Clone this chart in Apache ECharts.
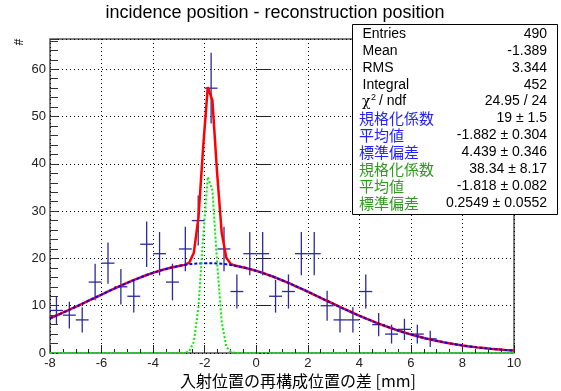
<!DOCTYPE html>
<html>
<head>
<meta charset="utf-8">
<script src="https://cdn.jsdelivr.net/npm/echarts@6/dist/echarts.min.js"></script>
<style>
html,body{margin:0;padding:0;background:#fff;}
#chart{width:561px;height:391px;}
</style>
</head>
<body>
<div id="chart"></div>
<script>
// ---- data ----
const binCenters = [-7.75,-7.25,-6.75,-6.25,-5.75,-5.25,-4.75,-4.25,-3.75,-3.25,-2.75,-2.25,-1.75,-1.25,-0.75,-0.25,0.25,0.75,1.25,1.75,2.25,2.75,3.25,3.75,4.25,4.75,5.25,5.75,6.25,6.75,7.25,7.75,8.25,8.75,9.25,9.75];
const counts = [9,8,7,15,19,14,12,23,21,15,22,28,56,22,13,21,21,12,13,21,21,10,7,7,13,6,4,5,4,3,0,0,0,0,0,0];
const errors = [3,2.83,2.65,3.87,4.36,3.74,3.46,4.8,4.58,3.87,4.69,5.29,7.48,4.69,3.61,4.58,4.58,3.46,3.61,4.58,4.58,3.16,2.65,2.65,3.61,2.45,2,2.24,2,1.73,0,0,0,0,0,0];
const binWidth = 0.5;

const curveX = [-8,-7.82,-7.64,-7.46,-7.28,-7.1,-6.92,-6.74,-6.56,-6.38,-6.2,-6.02,-5.84,-5.66,-5.48,-5.3,-5.12,-4.94,-4.76,-4.58,-4.4,-4.22,-4.04,-3.86,-3.68,-3.5,-3.32,-3.14,-2.96,-2.78,-2.6,-2.42,-2.24,-2.06,-1.88,-1.7,-1.52,-1.34,-1.16,-0.98,-0.8,-0.62,-0.44,-0.26,-0.08,0.1,0.28,0.46,0.64,0.82,1,1.18,1.36,1.54,1.72,1.9,2.08,2.26,2.44,2.62,2.8,2.98,3.16,3.34,3.52,3.7,3.88,4.06,4.24,4.42,4.6,4.78,4.96,5.14,5.32,5.5,5.68,5.86,6.04,6.22,6.4,6.58,6.76,6.94,7.12,7.3,7.48,7.66,7.84,8.02,8.2,8.38,8.56,8.74,8.92,9.1,9.28,9.46,9.64,9.82,10];
const broadY = [7.35,7.77,8.19,8.63,9.07,9.52,9.98,10.44,10.90,11.37,11.84,12.30,12.77,13.23,13.68,14.12,14.56,14.99,15.40,15.79,16.18,16.54,16.88,17.20,17.50,17.78,18.03,18.25,18.45,18.61,18.75,18.86,18.94,18.98,19.00,18.98,18.94,18.86,18.75,18.61,18.44,18.25,18.02,17.77,17.50,17.20,16.88,16.53,16.17,15.79,15.39,14.98,14.55,14.11,13.67,13.22,12.76,12.29,11.83,11.36,10.89,10.43,9.97,9.51,9.06,8.62,8.18,7.76,7.34,6.94,6.54,6.16,5.79,5.44,5.10,4.77,4.45,4.15,3.87,3.59,3.33,3.09,2.86,2.64,2.43,2.24,2.06,1.89,1.73,1.58,1.44,1.31,1.19,1.09,0.98,0.89,0.81,0.73,0.65,0.59,0.53];
const totalY = [7.35,7.77,8.19,8.63,9.07,9.52,9.98,10.44,10.90,11.37,11.84,12.30,12.77,13.23,13.68,14.12,14.56,14.99,15.40,15.79,16.18,16.54,16.88,17.20,17.50,17.78,18.03,18.25,18.45,18.64,19.10,21.22,28.68,43.41,56.22,53.43,38.30,25.47,20.12,18.78,18.45,18.25,18.02,17.77,17.50,17.20,16.88,16.53,16.17,15.79,15.39,14.98,14.55,14.11,13.67,13.22,12.76,12.29,11.83,11.36,10.89,10.43,9.97,9.51,9.06,8.62,8.18,7.76,7.34,6.94,6.54,6.16,5.79,5.44,5.10,4.77,4.45,4.15,3.87,3.59,3.33,3.09,2.86,2.64,2.43,2.24,2.06,1.89,1.73,1.58,1.44,1.31,1.19,1.09,0.98,0.89,0.81,0.73,0.65,0.59,0.53];
const narrowX = [-8,-2.96,-2.78,-2.6,-2.42,-2.24,-2.06,-1.88,-1.7,-1.52,-1.34,-1.16,-0.98,-0.8,-0.62,10];
const narrowY = [0,0,0.03,0.35,2.36,9.74,24.43,37.22,34.45,19.36,6.61,1.37,0.17,0.01,0,0];

const titleText = 'incidence position - reconstruction position';
const xTitle = '入射位置の再構成位置の差 [mm]';
const yTitle = '#';
const statLabels = ['Entries','Mean','RMS','Integral','χ2 / ndf','規格化係数','平均値','標準偏差','規格化係数','平均値','標準偏差'];
const statValues = ['490','-1.389','3.344','452','24.95 / 24','19 ± 1.5','-1.882 ± 0.304','4.439 ± 0.346','38.34 ± 8.17','-1.818 ± 0.082','0.2549 ± 0.0552'];
const statColors = ['#000','#000','#000','#000','#000','#2323ff','#2323ff','#2323ff','#2f9a1f','#2f9a1f','#2f9a1f'];

// ---- chart ----
const chart = echarts.init(document.getElementById('chart'), null, {renderer:'canvas'});
const latin = '"Liberation Sans", Arial, Helvetica, sans-serif';
const cjk = '"Noto Sans CJK JP", "Liberation Sans", sans-serif';

const statGraphics = [];
statGraphics.push({type:'rect', shape:{x:352.5, y:24.5, width:205, height:190}, style:{fill:'#fff', stroke:'#000', lineWidth:1}, z:100});
statLabels.forEach((lab, i) => {
  const y = 34 + i * 16.9;
  const isCjk = i >= 5;
  if (lab === 'χ2 / ndf') {
    statGraphics.push({type:'text', x:362, y:y+1, style:{text:'χ', font:'14px "DejaVu Serif", serif', fill:'#000', textVerticalAlign:'middle'}, z:101});
    statGraphics.push({type:'text', x:371, y:y-4, style:{text:'2', font:'9px ' + latin, fill:'#000', textVerticalAlign:'middle'}, z:101});
    statGraphics.push({type:'text', x:379, y:y, style:{text:'/ ndf', font:'14px ' + latin, fill:'#000', textVerticalAlign:'middle'}, z:101});
  } else {
    statGraphics.push({type:'text', x: isCjk ? 359 : 362.5, y:y, style:{text:lab, font: isCjk ? ('15px ' + cjk) : ('14px ' + latin), fill:statColors[i], textVerticalAlign:'middle'}, z:101});
  }
  statGraphics.push({type:'text', x:547, y:y, style:{text:statValues[i], font:'14px ' + latin, fill:'#000', textAlign:'right', textVerticalAlign:'middle'}, z:101});
});

const option = {
  animation: false,
  backgroundColor: '#fff',
  grid: {left:50, right:47, top:39, bottom:38, show:true, borderColor:'#555', borderWidth:1.5, backgroundColor:'transparent'},
  xAxis: {
    type:'value', min:-8, max:10, interval:2,
    axisLine:{show:false},
    axisTick:{show:true, inside:true, length:8, lineStyle:{color:'#222', width:1}},
    minorTick:{show:true, splitNumber:4, length:4, lineStyle:{color:'#222', width:1}},
    axisLabel:{margin:4, fontSize:13, color:'#222', fontFamily:latin},
    splitLine:{show:true, lineStyle:{color:'#000', width:1, type:[1,3]}},
    minorSplitLine:{show:false}
  },
  yAxis: [
    {
      type:'value', min:0, max:66.4, interval:10, position:'left',
      axisLine:{show:false},
      axisTick:{show:true, inside:true, length:15, lineStyle:{color:'#222', width:1}},
      axisLabel:{margin:4, fontSize:13, color:'#222', fontFamily:latin, showMaxLabel:false},
      splitLine:{show:true, lineStyle:{color:'#000', width:1, type:[1,3]}}
    },
    {
      type:'value', min:0, max:66.4, interval:2, position:'left',
      axisLine:{show:false},
      axisTick:{show:true, inside:true, length:8, lineStyle:{color:'#333', width:1}},
      axisLabel:{show:false},
      splitLine:{show:false}
    }
  ],
  series: [
    {
      type:'custom', yAxisIndex:0, z:2,
      data: binCenters.map((c, i) => [c, counts[i], errors[i]]),
      renderItem: function (params, api) {
        const c = api.value(0), n = api.value(1), e = api.value(2);
        if (n <= 0) return null;
        const l = api.coord([c - binWidth / 2, n]);
        const r = api.coord([c + binWidth / 2, n]);
        const t = api.coord([c, n + e]);
        const b = api.coord([c, n - e]);
        const st = {stroke:'#2a2a9e', lineWidth:1.3};
        return {type:'group', children:[
          {type:'line', shape:{x1:l[0], y1:l[1], x2:r[0], y2:r[1]}, style:st},
          {type:'line', shape:{x1:t[0], y1:t[1], x2:b[0], y2:b[1]}, style:st}
        ]};
      }
    },
    {
      type:'line', yAxisIndex:0, z:3, showSymbol:false, symbol:'none', smooth:false,
      data: curveX.map((x, i) => [x, totalY[i]]),
      lineStyle:{color:'#ff0000', width:2.5}
    },
    {
      type:'line', yAxisIndex:0, z:4, showSymbol:false, symbol:'none', smooth:false,
      data: curveX.map((x, i) => [x, broadY[i]]),
      lineStyle:{color:'#0000ff', width:2, type:[3,2]}
    },
    {
      type:'line', yAxisIndex:0, z:5, showSymbol:false, symbol:'none', smooth:false,
      data: narrowX.map((x, i) => [x, narrowY[i]]),
      lineStyle:{color:'#00ee00', width:2, type:[2,2]}
    }
  ],
  graphic: [
    {type:'text', x:275, y:13, style:{text:titleText, font:'18px ' + latin, fill:'#000', textAlign:'center', textVerticalAlign:'middle'}},
    {type:'text', x:298, y:381, style:{text:xTitle, font:'16px ' + cjk, fill:'#000', textAlign:'center', textVerticalAlign:'middle'}},
    {type:'text', x:17, y:42, rotation:-Math.PI/2, style:{text:yTitle, font:'12px ' + latin, fill:'#000', textAlign:'center', textVerticalAlign:'middle'}}
  ].concat(statGraphics)
};
chart.setOption(option);
</script>
</body>
</html>
